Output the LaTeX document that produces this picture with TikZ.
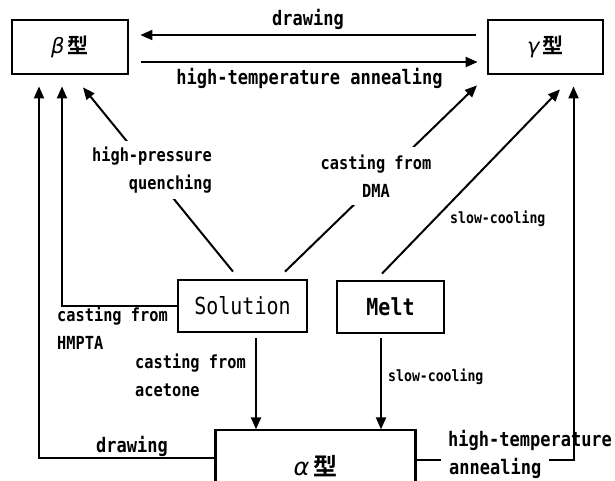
\documentclass[tikz,border=0pt]{standalone}
\usepackage{fontspec}
\newfontfamily\lab[FakeStretch=0.85]{DejaVu Sans Mono}
\newfontfamily\grk{DejaVu Sans}
\newfontfamily\cjk{Noto Sans CJK SC Bold}
\usetikzlibrary{arrows.meta,calc}
\begin{document}
\begin{tikzpicture}[x=1pt,y=-1pt,
  box/.style={draw, line width=2.8pt, inner sep=0pt},
  ln/.style={line width=2pt},
  arr/.style={ln, -{Triangle[length=12pt,width=10pt]}},
  big/.style={font=\lab\bfseries\fontsize{20}{27}\selectfont, inner sep=1pt},
  mid/.style={font=\lab\bfseries\fontsize{18}{28}\selectfont, inner sep=1pt},
  sml/.style={font=\lab\bfseries\fontsize{15.5}{18}\selectfont, inner sep=1pt},
  nodefont/.style={font=\lab\fontsize{23.5}{26}\selectfont},
  typ/.style={font=\fontsize{21}{24}\selectfont},
  cut/.style={fill=white}
]
\useasboundingbox (0,0) rectangle (615,481);
\fill[white] (0,0) rectangle (615,481);

% boxes
\node[box, typ, minimum width=116pt, minimum height=54pt] (b) at (70,47) {{\grk\itshape β}\,{\cjk 型}};
\node[box, typ, minimum width=115pt, minimum height=54pt] (g) at (545.5,47) {{\grk\itshape γ}\,{\cjk 型}};
\node[box, nodefont, minimum width=129pt, minimum height=52pt] (s) at (242.5,306) {Solution};
\node[box, nodefont, font=\lab\bfseries\fontsize{23.5}{26}\selectfont, minimum width=107pt, minimum height=52pt] (m) at (390.5,307) {Melt};
\begin{scope}
\clip (0,0) rectangle (615,481);
\node[box, minimum width=200pt, minimum height=72pt, font=\fontsize{24}{28}\selectfont] (a) at (315.5,466) {{\grk\itshape α}\,{\cjk 型}};
\end{scope}

% top pair
\draw[arr] ($(g.west)+(-11,-12)$) -- ($(b.east)+(11,-12)$)
  node[big, midway, above=3pt] {drawing};
\draw[arr] ($(b.east)+(12,15)$) -- ($(g.west)+(-9,15)$)
  node[big, midway, below=4pt] {high-temperature annealing};

% left outer: alpha -> beta
\draw[arr] ($(a.west)+(0,-8)$) -| ($(b.south)+(-31,11)$);
\node[big] (lbd) at (132,446) {drawing};

% left inner: Solution -> beta
\draw[arr] (s.west) -| ($(b.south)+(-8,11)$);
\node[mid, align=left, anchor=north west] (lbh) at (56,306) {casting from\\HMPTA};

% high-pressure quenching
\draw[arr] ($(s.north)+(-9.5,-7)$) -- ($(b.south)+(13,12)$);
\node[mid, align=right, cut, inner ysep=6pt] (lbq) at (152,170) {high-pressure\\quenching};

% casting from DMA
\draw[arr] ($(s.north)+(42.5,-7)$) -- ($(g.south)+(-68.5,10)$);
\node[mid, align=center, cut, inner ysep=8pt, inner xsep=4pt] (lbdma) at (376,176) {casting from\\DMA};

% Melt -> gamma
\draw[arr] ($(m.north)+(-8.5,-6)$) -- ($(g.south)+(14.5,14)$);
\node[sml, anchor=west] (lbs1) at (449,219) {slow-cooling};

% alpha -> gamma
\draw[arr] ($(a.east)+(0,-6)$) -| ($(g.south)+(28,11)$);
\node[big, anchor=west] (lbht) at (447,440) {high-temperature};
\node[big, anchor=west, cut, inner xsep=8pt, inner ysep=4pt] (lban) at (441,468) {annealing\hspace{8pt}};

% Solution -> alpha
\draw[arr] ($(s.south)+(13.5,5)$) -- ($(s.south)+(13.5,96)$);
\node[mid, align=left, anchor=north west] (lbac) at (134,353) {casting from\\acetone};

% Melt -> alpha
\draw[arr] ($(m.south)+(-9.5,4)$) -- ($(m.south)+(-9.5,95)$);
\node[sml, anchor=west] (lbs2) at (387,377) {slow-cooling};
\end{tikzpicture}
\end{document}
